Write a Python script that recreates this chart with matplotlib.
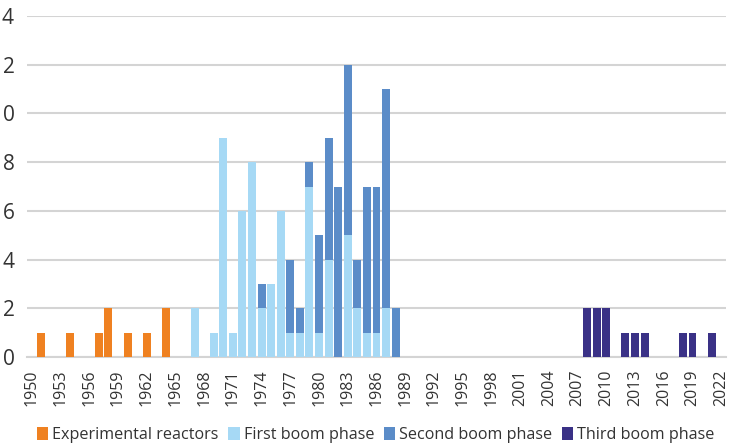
import matplotlib.pyplot as plt
import numpy as np

plt.rcParams["font.family"] = ["Open Sans", "DejaVu Sans"]

# Year axis shown on the chart (one category per year).
first_year, last_year = 1950, 2022

experimental_years = [1951, 1954, 1957, 1958, 1960, 1962, 1964]
experimental_counts = [1, 1, 1, 2, 1, 1, 2]

first_years = [1967, 1969, 1970, 1971, 1972, 1973, 1974, 1975, 1976, 1977,
               1978, 1979, 1980, 1981, 1983, 1984, 1985, 1986, 1987]
first_counts = [2, 1, 9, 1, 6, 8, 2, 3, 6, 1,
                1, 7, 1, 4, 5, 2, 1, 1, 2]

second_years = [1974, 1977, 1978, 1979, 1980, 1981, 1982, 1983, 1984, 1985,
                1986, 1987, 1988]
second_counts = [1, 3, 1, 1, 4, 5, 7, 7, 2, 6, 6, 9, 2]

third_years = [2008, 2009, 2010, 2012, 2013, 2014, 2018, 2019, 2021]
third_counts = [2, 2, 2, 1, 1, 1, 1, 1, 1]

series = [
    ("Experimental reactors", experimental_years, experimental_counts, "#EF8121"),
    ("First boom phase", first_years, first_counts, "#A6D9F5"),
    ("Second boom phase", second_years, second_counts, "#5B8CC8"),
    ("Third boom phase", third_years, third_counts, "#3A3186"),
]

years = np.arange(first_year, last_year + 1)
x = np.arange(len(years))

fig = plt.figure(figsize=(7.3, 4.45), dpi=100)
ax = fig.add_axes([27 / 730, 1 - 357 / 445, 699 / 730, 341 / 445])

# Stacked bars, one category per year.
bottom = np.zeros(len(years))
for label, yrs, counts, color in series:
    vals = np.zeros(len(years))
    for y, c in zip(yrs, counts):
        vals[y - first_year] = c
    ax.bar(x, vals, width=0.83, bottom=bottom, color=color, label=label,
           zorder=3)
    bottom += vals

ax.set_xlim(-0.5, len(years) - 0.5)
ax.set_ylim(0, 14)
ax.set_yticks(np.arange(0, 15, 2))
ax.yaxis.grid(True, color="#D4D4D4", linewidth=1.5, zorder=0)
ax.set_axisbelow(True)

tick_idx = x[::3]
ax.set_xticks(tick_idx)
ax.set_xticklabels([str(years[i]) for i in tick_idx])
ax.tick_params(axis="x", length=0, pad=9, labelsize=11.5,
               labelrotation=90, labelcolor="#333333")
ax.tick_params(axis="y", length=0, pad=9, labelsize=15, labelcolor="#333333")

for s in ("top", "right", "left"):
    ax.spines[s].set_visible(False)
ax.spines["bottom"].set_color("#D4D4D4")
ax.spines["bottom"].set_linewidth(1.5)

fig.legend(loc="center", bbox_to_anchor=(0.515, 1 - 435 / 445), ncol=4,
           frameon=False, fontsize=11.6, handlelength=0.7, handleheight=0.8,
           handletextpad=0.25, columnspacing=0.6, labelcolor="#333333")

fig.savefig("out.png", dpi=100)
